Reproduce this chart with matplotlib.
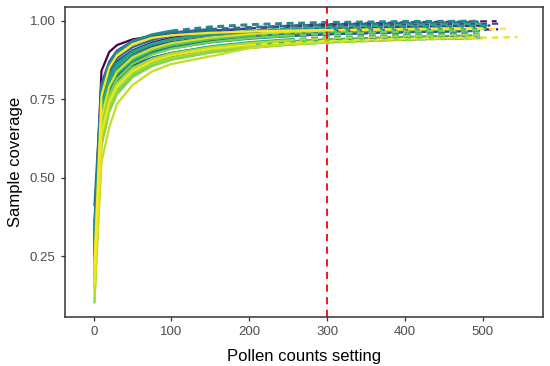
import numpy as np
import matplotlib
matplotlib.use('Agg')
import matplotlib.pyplot as plt

plt.rcParams['font.family'] = ['Liberation Sans', 'DejaVu Sans']

counts = [1, 10, 20, 30, 50, 75, 100, 150, 200, 250, 300, 400]

# coverage at each grid count for every site (one list per site, viridis order)
coverage = [
    [0.33, 0.84, 0.90, 0.922, 0.940, 0.950, 0.955, 0.960, 0.963, 0.965, 0.967, 0.970],
    [0.25, 0.69, 0.765, 0.805, 0.845, 0.870, 0.885, 0.905, 0.918, 0.926, 0.932, 0.940],
    [0.30, 0.75, 0.83, 0.870, 0.905, 0.930, 0.945, 0.963, 0.975, 0.983, 0.988, 0.994],
    [0.28, 0.72, 0.80, 0.840, 0.878, 0.902, 0.918, 0.937, 0.948, 0.955, 0.960, 0.966],
    [0.22, 0.69, 0.775, 0.820, 0.865, 0.895, 0.912, 0.932, 0.944, 0.952, 0.957, 0.963],
    [0.30, 0.75, 0.83, 0.865, 0.900, 0.925, 0.940, 0.956, 0.965, 0.971, 0.975, 0.980],
    [0.26, 0.70, 0.78, 0.820, 0.858, 0.882, 0.897, 0.915, 0.926, 0.934, 0.940, 0.948],
    [0.35, 0.79, 0.86, 0.895, 0.925, 0.945, 0.956, 0.968, 0.975, 0.980, 0.983, 0.987],
    [0.24, 0.71, 0.79, 0.835, 0.875, 0.900, 0.915, 0.933, 0.944, 0.951, 0.956, 0.963],
    [0.30, 0.74, 0.82, 0.860, 0.895, 0.918, 0.932, 0.948, 0.958, 0.964, 0.969, 0.975],
    [0.28, 0.72, 0.80, 0.845, 0.885, 0.910, 0.925, 0.942, 0.952, 0.958, 0.962, 0.967],
    [0.41, 0.80, 0.87, 0.905, 0.935, 0.952, 0.962, 0.973, 0.979, 0.983, 0.986, 0.989],
    [0.32, 0.76, 0.84, 0.880, 0.915, 0.938, 0.952, 0.968, 0.977, 0.983, 0.987, 0.992],
    [0.36, 0.79, 0.865, 0.900, 0.932, 0.952, 0.965, 0.978, 0.986, 0.990, 0.993, 0.996],
    [0.30, 0.74, 0.825, 0.865, 0.902, 0.926, 0.940, 0.955, 0.965, 0.971, 0.975, 0.980],
    [0.27, 0.72, 0.805, 0.848, 0.888, 0.912, 0.927, 0.943, 0.953, 0.959, 0.963, 0.969],
    [0.33, 0.78, 0.86, 0.900, 0.935, 0.956, 0.968, 0.981, 0.988, 0.992, 0.995, 0.998],
    [0.25, 0.70, 0.785, 0.828, 0.870, 0.896, 0.912, 0.930, 0.942, 0.950, 0.955, 0.962],
    [0.29, 0.74, 0.825, 0.865, 0.902, 0.926, 0.940, 0.956, 0.966, 0.972, 0.976, 0.981],
    [0.22, 0.68, 0.765, 0.810, 0.852, 0.880, 0.897, 0.918, 0.931, 0.940, 0.946, 0.954],
    [0.26, 0.72, 0.81, 0.855, 0.898, 0.925, 0.941, 0.958, 0.968, 0.975, 0.980, 0.986],
    [0.20, 0.67, 0.755, 0.800, 0.843, 0.872, 0.890, 0.911, 0.925, 0.934, 0.940, 0.948],
    [0.24, 0.70, 0.79, 0.835, 0.877, 0.905, 0.921, 0.940, 0.951, 0.958, 0.963, 0.969],
    [0.18, 0.65, 0.745, 0.795, 0.842, 0.873, 0.892, 0.914, 0.928, 0.938, 0.945, 0.953],
    [0.23, 0.70, 0.79, 0.835, 0.878, 0.906, 0.922, 0.941, 0.953, 0.961, 0.966, 0.972],
    [0.15, 0.63, 0.725, 0.775, 0.825, 0.857, 0.876, 0.899, 0.913, 0.923, 0.930, 0.939],
    [0.19, 0.67, 0.765, 0.815, 0.862, 0.892, 0.910, 0.931, 0.944, 0.952, 0.958, 0.965],
    [0.10, 0.60, 0.71, 0.765, 0.820, 0.855, 0.875, 0.898, 0.913, 0.923, 0.930, 0.939],
    [0.14, 0.62, 0.725, 0.780, 0.832, 0.864, 0.882, 0.904, 0.918, 0.927, 0.933, 0.941],
    [0.17, 0.65, 0.75, 0.800, 0.848, 0.878, 0.895, 0.915, 0.928, 0.937, 0.943, 0.950],
    [0.12, 0.55, 0.66, 0.735, 0.795, 0.838, 0.862, 0.886, 0.912, 0.925, 0.930, 0.940],
    [0.20, 0.69, 0.79, 0.838, 0.883, 0.911, 0.928, 0.946, 0.957, 0.964, 0.968, 0.973],
    [0.16, 0.64, 0.74, 0.792, 0.840, 0.871, 0.889, 0.910, 0.922, 0.930, 0.935, 0.942],
    [0.22, 0.76, 0.85, 0.890, 0.925, 0.945, 0.953, 0.961, 0.965, 0.968, 0.970, 0.972],
]

# observed pollen count per site (solid up to here, extrapolated after)
observed = [250, 200, 200, 250, 300, 150, 250, 200, 300, 200, 250, 150, 150, 100, 200, 250, 100,
            250, 200, 250, 150, 300, 200, 250, 200, 300, 250, 250, 300, 250, 300, 300, 200, 300]

# end of the extrapolated part and coverage there
extrap_end = [520, 500, 518, 505, 495, 510, 500, 520, 490, 505, 500, 480, 495, 500, 505, 495, 490,
              500, 510, 490, 500, 495, 505, 500, 488, 500, 495, 495, 490, 500, 490, 500, 545, 530]
extrap_cov = [0.972, 0.945, 0.998, 0.970, 0.967, 0.984, 0.953, 0.990, 0.967, 0.979, 0.970, 0.991,
              0.995, 0.997, 0.984, 0.973, 0.999, 0.966, 0.984, 0.959, 0.990, 0.953, 0.973, 0.958,
              0.976, 0.944, 0.969, 0.944, 0.946, 0.955, 0.947, 0.976, 0.947, 0.974]

fig = plt.figure(figsize=(5.5, 3.66), dpi=100)
ax = fig.add_axes([0.1176, 0.1347, 0.8702, 0.847])

colors = plt.cm.viridis(np.linspace(0, 1, len(coverage)))
x_all = np.array(counts)
for i, cov in enumerate(coverage):
    cov = np.array(cov)
    solid = x_all <= observed[i]
    ax.plot(x_all[solid], cov[solid], color=colors[i], lw=1.6, solid_capstyle='butt')
    xd = np.append(x_all[x_all >= observed[i]], extrap_end[i])
    yd = np.append(cov[x_all >= observed[i]], extrap_cov[i])
    ax.plot(xd, yd, color=colors[i], lw=1.6, dashes=(3, 2.2))

ax.axvline(300, color='red', lw=1.3, dashes=(4, 3))

ax.set_xlim(-37.3, 578)
ax.set_ylim(0.058, 1.044)
ax.set_xticks([0, 100, 200, 300, 400, 500])
ax.set_yticks([0.25, 0.50, 0.75, 1.00])
ax.set_yticklabels(['0.25', '0.50', '0.75', '1.00'])

for s in ax.spines.values():
    s.set_color('#333333')
    s.set_linewidth(1.1)
ax.tick_params(colors='#333333', labelcolor='#4d4d4d', labelsize=9.5, length=3, width=0.9)

ax.set_xlabel('Pollen counts setting', fontsize=12, labelpad=8)
ax.set_ylabel('Sample coverage', fontsize=12, labelpad=5)

fig.savefig('out.png', dpi=100)
